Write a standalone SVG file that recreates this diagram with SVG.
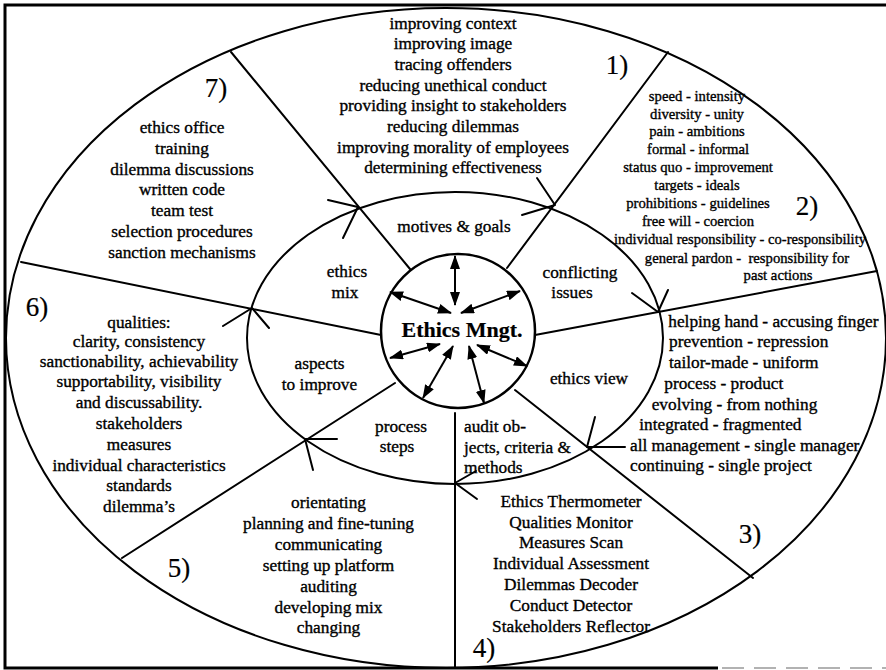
<svg xmlns="http://www.w3.org/2000/svg" width="886" height="670" viewBox="0 0 886 670">
  <style>
    .t { font-family: "Liberation Serif", "Times New Roman", serif; font-size: 17.3px; fill: #000; stroke: #000; stroke-width: 0.35px; text-anchor: middle; }
    .l { text-anchor: start; }
    .s { font-size: 14.7px; }
    .n { font-size: 27px; stroke-width: 0.2px; }
    .b { font-size: 22px; font-weight: bold; stroke-width: 0.2px; }
    .ln { fill: none; stroke: #000; stroke-width: 2; stroke-linecap: round; stroke-linejoin: round; }
    .arr { fill: none; stroke: #000; stroke-width: 2; marker-start: url(#ah); marker-end: url(#ah); }
  </style>
  <defs>
    <marker id="ah" viewBox="0 0 14 10" refX="13" refY="5" markerWidth="14" markerHeight="10" markerUnits="userSpaceOnUse" orient="auto-start-reverse">
      <path d="M0,0 L14,5 L0,10 z" fill="#000"/>
    </marker>
  </defs>

  <rect width="886" height="670" fill="#fff"/>

  <!-- frame -->
  <g id="frame">
    <path d="M886,5 H5 V668 H718" fill="none" stroke="#000" stroke-width="3"/>
    <path d="M722,668 H886" fill="none" stroke="#999" stroke-width="1.5" stroke-dasharray="22,10"/>
  </g>

  <!-- rings -->
  <g id="rings" class="ln">
    <ellipse cx="446" cy="338" rx="440" ry="330"/>
    <ellipse cx="455" cy="338" rx="208" ry="146"/>
  </g>

  <!-- connectors: sector dividers, flow arrows on the middle ring, double arrows from the centre -->
  <g id="connectors">
    <g class="ln">
      <line x1="410" y1="269" x2="231" y2="52"/>
      <line x1="507" y1="268" x2="668" y2="52"/>
      <line x1="535" y1="335" x2="877" y2="271"/>
      <line x1="515" y1="390" x2="753" y2="578"/>
      <line x1="455" y1="413" x2="455" y2="668"/>
      <line x1="395" y1="383" x2="122" y2="558"/>
      <line x1="381" y1="335" x2="21" y2="262"/>
      <!-- open heads showing the clockwise order on the middle ring -->
      <polyline points="328,200 358,207 343,238"/>
      <polyline points="522,215 555,205 537,178"/>
      <polyline points="632,293 658,312 668,290"/>
      <polyline points="595,417 587,447 625,447"/>
      <polyline points="476,471 455,483 477,499"/>
      <polyline points="337,439 305,439 313,470"/>
      <polyline points="223,326 252,308 269,328"/>
    </g>
    <g class="arr">
      <line x1="455" y1="256" x2="455" y2="305"/>
      <line x1="390" y1="292" x2="451" y2="313"/>
      <line x1="461" y1="313" x2="520" y2="291"/>
      <line x1="390" y1="358" x2="440" y2="344"/>
      <line x1="453" y1="346" x2="423" y2="398"/>
      <line x1="469" y1="346" x2="484" y2="403"/>
      <line x1="477" y1="345" x2="527" y2="366"/>
    </g>
  </g>

  <!-- centre -->
  <g id="ethics-mngt">
    <circle cx="458" cy="331" r="77" fill="none" stroke="#000" stroke-width="2.5"/>
    <text class="t b" x="462" y="337">Ethics Mngt.</text>
  </g>

  <!-- middle ring -->
  <g id="motives-goals"><text class="t" x="454" y="231.5">motives &amp; goals</text></g>
  <g id="conflicting-issues">
    <text class="t" x="580" y="278.3">conflicting</text>
    <text class="t" x="572" y="298.3">issues</text>
  </g>
  <g id="ethics-view"><text class="t" x="589" y="384.3">ethics view</text></g>
  <g id="audit">
    <text class="t l" x="464" y="431.7">audit ob-</text>
    <text class="t l" x="464" y="452.5">jects, criteria &amp;</text>
    <text class="t l" x="464" y="472.7">methods</text>
  </g>
  <g id="process-steps">
    <text class="t" x="401" y="431.7">process</text>
    <text class="t" x="397" y="451.7">steps</text>
  </g>
  <g id="aspects-to-improve">
    <text class="t" x="319.5" y="369.3">aspects</text>
    <text class="t" x="319.5" y="390">to improve</text>
  </g>
  <g id="ethics-mix">
    <text class="t" x="347" y="276.7">ethics</text>
    <text class="t" x="345" y="297.7">mix</text>
  </g>

  <!-- outer ring -->
  <g id="sector-1">
    <text class="t n" x="617" y="74">1)</text>
    <text class="t" x="453" y="28.5">improving context</text>
    <text class="t" x="453" y="49.2">improving image</text>
    <text class="t" x="453" y="69.9">tracing offenders</text>
    <text class="t" x="453" y="90.6">reducing unethical conduct</text>
    <text class="t" x="453" y="111.3">providing insight to stakeholders</text>
    <text class="t" x="453" y="132">reducing dilemmas</text>
    <text class="t" x="453" y="152.7">improving morality of employees</text>
    <text class="t" x="453" y="173.4">determining effectiveness</text>
  </g>
  <g id="sector-2">
    <text class="t n" x="807" y="215">2)</text>
    <text class="t s" x="697" y="100.7">speed - intensity</text>
    <text class="t s" x="697" y="118.5">diversity - unity</text>
    <text class="t s" x="697" y="136.4">pain - ambitions</text>
    <text class="t s" x="698" y="154.3">formal - informal</text>
    <text class="t s" x="698" y="172.2">status quo - improvement</text>
    <text class="t s" x="697" y="190.1">targets - ideals</text>
    <text class="t s" x="698" y="208.1">prohibitions - guidelines</text>
    <text class="t s" x="698" y="226.2">free will - coercion</text>
    <text class="t s" x="740" y="244.3" textLength="252" lengthAdjust="spacingAndGlyphs">individual responsibility - co-responsibility</text>
    <text class="t s" x="747" y="262.5">general pardon -&#160; responsibility for</text>
    <text class="t s" x="778" y="280.3">past actions</text>
  </g>
  <g id="sector-3">
    <text class="t n" x="750" y="543.3">3)</text>
    <text class="t l" x="668.3" y="326.7">helping hand - accusing finger</text>
    <text class="t l" x="669" y="347">prevention - repression</text>
    <text class="t l" x="669" y="368.3">tailor-made - uniform</text>
    <text class="t l" x="664.3" y="389">process - product</text>
    <text class="t l" x="651.7" y="409.5">evolving - from nothing</text>
    <text class="t l" x="639.3" y="430">integrated - fragmented</text>
    <text class="t l" x="630" y="450.5">all management - single manager</text>
    <text class="t l" x="630" y="471">continuing - single project</text>
  </g>
  <g id="sector-4">
    <text class="t n" x="484" y="657">4)</text>
    <text class="t" x="571" y="506.7">Ethics Thermometer</text>
    <text class="t" x="571" y="527.5">Qualities Monitor</text>
    <text class="t" x="571" y="548.3">Measures Scan</text>
    <text class="t" x="571" y="569.1">Individual Assessment</text>
    <text class="t" x="571" y="589.9">Dilemmas Decoder</text>
    <text class="t" x="571" y="610.7">Conduct Detector</text>
    <text class="t" x="571" y="631.5">Stakeholders Reflector</text>
  </g>
  <g id="sector-5">
    <text class="t n" x="179" y="576.7">5)</text>
    <text class="t" x="328.5" y="508.3">orientating</text>
    <text class="t" x="328.5" y="529.2">planning and fine-tuning</text>
    <text class="t" x="328.5" y="550.1">communicating</text>
    <text class="t" x="328.5" y="571">setting up platform</text>
    <text class="t" x="328.5" y="591.8">auditing</text>
    <text class="t" x="328.5" y="612.6">developing mix</text>
    <text class="t" x="328.5" y="633.4">changing</text>
  </g>
  <g id="sector-6">
    <text class="t n" x="37" y="316">6)</text>
    <text class="t" x="139" y="328.3">qualities:</text>
    <text class="t" x="139" y="346.9">clarity, consistency</text>
    <text class="t" x="139" y="366.8">sanctionability, achievability</text>
    <text class="t" x="139" y="387.4">supportability, visibility</text>
    <text class="t" x="139" y="408.3">and discussability.</text>
    <text class="t" x="139" y="429.2">stakeholders</text>
    <text class="t" x="139" y="450">measures</text>
    <text class="t" x="139" y="470.6">individual characteristics</text>
    <text class="t" x="139" y="491.2">standards</text>
    <text class="t" x="139" y="511.8">dilemma’s</text>
  </g>
  <g id="sector-7">
    <text class="t n" x="216" y="96.5">7)</text>
    <text class="t" x="182" y="133.3">ethics office</text>
    <text class="t" x="182" y="153.9">training</text>
    <text class="t" x="182" y="174.5">dilemma discussions</text>
    <text class="t" x="182" y="195.4">written code</text>
    <text class="t" x="182" y="216.3">team test</text>
    <text class="t" x="182" y="237.2">selection procedures</text>
    <text class="t" x="182" y="258.1">sanction mechanisms</text>
  </g>
</svg>
